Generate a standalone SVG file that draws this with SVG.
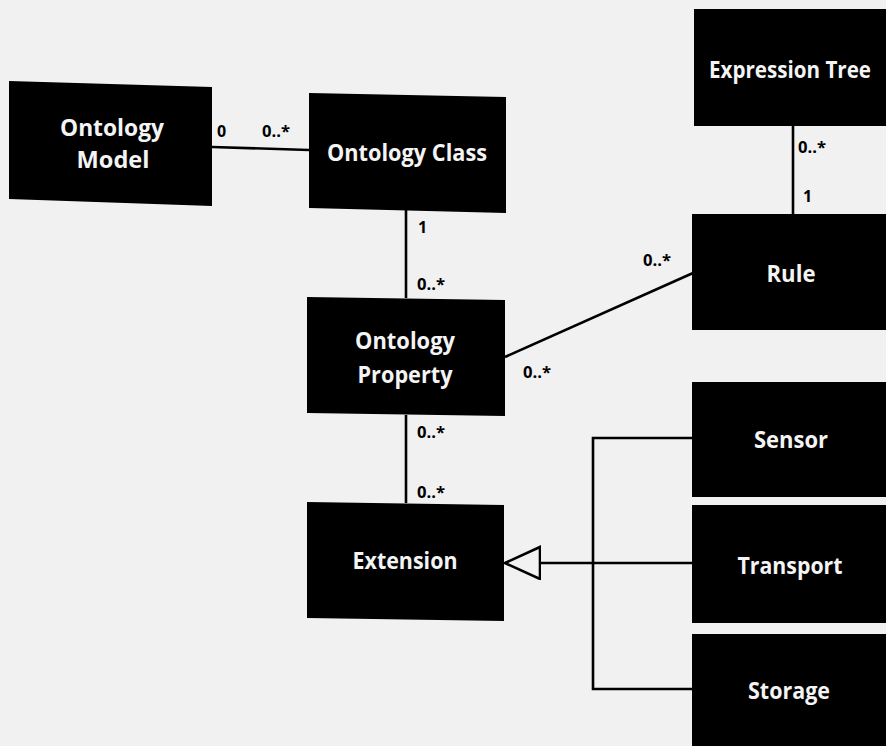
<svg xmlns="http://www.w3.org/2000/svg" width="886" height="746" viewBox="0 0 886 746">
  <style>
    .box { fill: #000; }
    .name { fill: #f4f4f4; font-family: "Open Sans", "Liberation Sans", sans-serif; font-weight: bold; font-size: 23px; text-anchor: middle; }
    .mult { fill: #000; font-family: "Open Sans", "Liberation Sans", sans-serif; font-weight: bold; font-size: 16px; }
    .conn { stroke: #000; stroke-width: 2.6; fill: none; }
  </style>
  <defs>
    <!-- hollow triangle head for generalization -->
    <marker id="gen" markerWidth="40" markerHeight="36" refX="36" refY="17" orient="auto" markerUnits="userSpaceOnUse">
      <path d="M36,17 L1,1 L1,33 Z" fill="#f2f2f2" stroke="#000" stroke-width="2.6"/>
    </marker>
  </defs>

  <rect width="886" height="746" fill="#f1f1f1"/>

  <!-- connectors -->
  <g id="connectors">
    <line class="conn" x1="212" y1="147" x2="309" y2="150"/>
    <line class="conn" x1="406" y1="210" x2="406" y2="298"/>
    <line class="conn" x1="406" y1="415" x2="406" y2="503"/>
    <line class="conn" x1="505" y1="357" x2="693" y2="273"/>
    <line class="conn" x1="793" y1="126" x2="793" y2="214"/>
    <!-- generalization: Sensor / Transport / Storage -> Extension -->
    <polyline class="conn" points="692,438 593,438 593,689 692,689"/>
    <line class="conn" x1="692" y1="563" x2="505" y2="563" marker-end="url(#gen)"/>
  </g>

  <!-- multiplicities -->
  <g id="multiplicities">
    <text class="mult" x="217" y="137">0</text>
    <text class="mult" x="262" y="137" textLength="28" lengthAdjust="spacingAndGlyphs">0..*</text>
    <text class="mult" x="418" y="233">1</text>
    <text class="mult" x="417" y="290" textLength="28" lengthAdjust="spacingAndGlyphs">0..*</text>
    <text class="mult" x="417" y="438" textLength="28" lengthAdjust="spacingAndGlyphs">0..*</text>
    <text class="mult" x="417" y="498" textLength="28" lengthAdjust="spacingAndGlyphs">0..*</text>
    <text class="mult" x="643" y="266" textLength="28" lengthAdjust="spacingAndGlyphs">0..*</text>
    <text class="mult" x="523" y="378" textLength="28" lengthAdjust="spacingAndGlyphs">0..*</text>
    <text class="mult" x="798" y="153" textLength="28" lengthAdjust="spacingAndGlyphs">0..*</text>
    <text class="mult" x="803" y="202">1</text>
  </g>

  <g id="ontology-model">
    <polygon class="box" points="9,81 212,87 212,206 9,199"/>
    <text class="name" x="112" y="136" textLength="104" lengthAdjust="spacingAndGlyphs">Ontology</text>
    <text class="name" x="113" y="168" textLength="73" lengthAdjust="spacingAndGlyphs">Model</text>
  </g>

  <g id="ontology-class">
    <polygon class="box" points="309,93 506,97 506,213 309,208"/>
    <text class="name" x="407" y="161" textLength="160" lengthAdjust="spacingAndGlyphs">Ontology Class</text>
  </g>

  <g id="ontology-property">
    <polygon class="box" points="307,297 505,300 505,416 307,413"/>
    <text class="name" x="405" y="349" textLength="100" lengthAdjust="spacingAndGlyphs">Ontology</text>
    <text class="name" x="405" y="383" textLength="95" lengthAdjust="spacingAndGlyphs">Property</text>
  </g>

  <g id="extension">
    <polygon class="box" points="307,502 504,505 504,621 307,618"/>
    <text class="name" x="405" y="569" textLength="105" lengthAdjust="spacingAndGlyphs">Extension</text>
  </g>

  <g id="expression-tree">
    <rect class="box" x="694" y="9" width="192" height="117"/>
    <text class="name" x="790" y="78" font-size="21" textLength="162" lengthAdjust="spacingAndGlyphs">Expression Tree</text>
  </g>

  <g id="rule">
    <rect class="box" x="692" y="214" width="194" height="116"/>
    <text class="name" x="791" y="282" textLength="49" lengthAdjust="spacingAndGlyphs">Rule</text>
  </g>

  <g id="sensor">
    <rect class="box" x="692" y="382" width="194" height="115"/>
    <text class="name" x="791" y="448" textLength="74" lengthAdjust="spacingAndGlyphs">Sensor</text>
  </g>

  <g id="transport">
    <rect class="box" x="692" y="505" width="194" height="118"/>
    <text class="name" x="790" y="574" textLength="105" lengthAdjust="spacingAndGlyphs">Transport</text>
  </g>

  <g id="storage">
    <rect class="box" x="692" y="634" width="194" height="112"/>
    <text class="name" x="789" y="699" textLength="82" lengthAdjust="spacingAndGlyphs">Storage</text>
  </g>
</svg>
